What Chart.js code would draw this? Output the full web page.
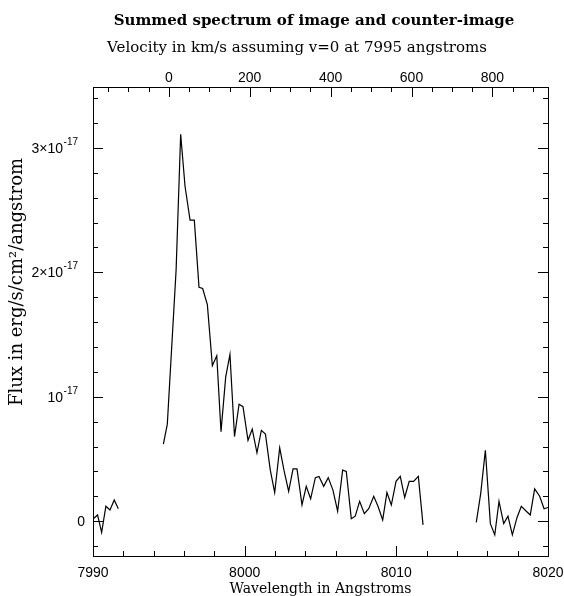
<!DOCTYPE html>
<html>
<head>
<meta charset="utf-8">
<script src="https://cdn.jsdelivr.net/npm/chart.js@4.4.1/dist/chart.umd.min.js"></script>
<style>
  html, body { margin: 0; padding: 0; background: #fff; }
  #wrap { width: 564px; height: 596px; }
</style>
</head>
<body>
<div id="wrap"><canvas id="spec"></canvas></div>
<script>
// flux is in units of 1e-17 erg/s/cm2/angstrom
const wavelengthA = [7990.02, 7990.30, 7990.57, 7990.85, 7991.12, 7991.40, 7991.67];
const fluxA = [0.02, 0.05, -0.09, 0.12, 0.09, 0.17, 0.10];

const wavelengthB = [7994.64, 7994.90, 7995.19, 7995.48, 7995.78, 7996.07, 7996.40, 7996.68, 7996.99, 7997.23,
  7997.54, 7997.87, 7998.16, 7998.44, 7998.75, 7999.03, 7999.33, 7999.63, 7999.89, 8000.22,
  8000.50, 8000.81, 8001.10, 8001.37, 8001.69, 8001.98, 8002.31, 8002.59, 8002.90, 8003.19,
  8003.45, 8003.78, 8004.06, 8004.35, 8004.66, 8004.90, 8005.21, 8005.51, 8005.82, 8006.13,
  8006.46, 8006.70, 8007.03, 8007.29, 8007.58, 8007.89, 8008.18, 8008.51, 8008.79, 8009.10,
  8009.38, 8009.67, 8009.98, 8010.26, 8010.55, 8010.85, 8011.14, 8011.45, 8011.76];
const fluxB = [0.62, 0.78, 1.40, 2.02, 3.11, 2.69, 2.42, 2.42, 1.88, 1.87,
  1.74, 1.25, 1.33, 0.72, 1.16, 1.34, 0.68, 0.94, 0.92, 0.65,
  0.74, 0.55, 0.73, 0.70, 0.41, 0.23, 0.59, 0.41, 0.24, 0.42,
  0.42, 0.13, 0.28, 0.18, 0.35, 0.36, 0.28, 0.35, 0.25, 0.08,
  0.41, 0.40, 0.02, 0.04, 0.16, 0.06, 0.10, 0.20, 0.12, 0.01,
  0.23, 0.13, 0.32, 0.36, 0.19, 0.32, 0.32, 0.36, -0.03];

const wavelengthC = [8015.27, 8015.56, 8015.87, 8016.20, 8016.49, 8016.77, 8017.08, 8017.36, 8017.65,
  8017.96, 8018.24, 8018.57, 8018.83, 8019.12, 8019.45, 8019.74, 8020.00];
const fluxC = [-0.01, 0.22, 0.57, -0.02, -0.11, 0.16, -0.02, 0.04, -0.11,
  0.03, 0.12, 0.08, 0.05, 0.26, 0.20, 0.10, 0.11];

const xTickLabels = [7990, 8000, 8010, 8020];
const velTickLabels = [0, 200, 400, 600, 800];
// y tick labels: mantissa part and exponent part
const yTickBase = ['0', '10', '2\u00D710', '3\u00D710'];
const yTickExp = ['', '-17', '-17', '-17'];

const xMin = 7990, xMax = 8020;
const yMin = -0.28, yMax = 3.49;
const restWave = 7995, cLight = 299792.458;
const toVel = w => cLight * (w - restWave) / restWave;

const pts = (xs, ys) => xs.map((x, i) => ({ x: x, y: ys[i] }));
const lineStyle = { borderColor: '#000', borderWidth: 1.2, pointRadius: 0, tension: 0, fill: false, xAxisID: 'x', yAxisID: 'y' };
const noEdgePad = s => { s.paddingLeft = 0; s.paddingRight = 0; };

// box frame, inward ticks on all four sides, and the text labels
const idlFrame = {
  id: 'idlFrame',
  afterDraw(chart) {
    const { ctx, chartArea: a, scales } = chart;
    ctx.save();
    ctx.strokeStyle = '#000';
    ctx.lineWidth = 1;
    ctx.strokeRect(Math.round(a.left) + 0.5, Math.round(a.top) + 0.5,
      Math.round(a.right - a.left), Math.round(a.bottom - a.top));

    const seg = (x1, y1, x2, y2) => { ctx.beginPath(); ctx.moveTo(x1, y1); ctx.lineTo(x2, y2); ctx.stroke(); };

    // wavelength: major 10, minor 2
    for (let k = 0; k <= 15; k++) {
      const px = Math.round(scales.x.getPixelForValue(xMin + 2 * k)) + 0.5;
      const len = k % 5 === 0 ? 10 : 5;
      seg(px, a.bottom, px, a.bottom - len);
    }
    // velocity: major 200, minor 50
    for (let k = -3; k <= 18; k++) {
      const v = 50 * k;
      if (v < scales.x2.min || v > scales.x2.max) continue;
      const px = Math.round(scales.x2.getPixelForValue(v)) + 0.5;
      const len = k % 4 === 0 ? 10 : 5;
      seg(px, a.top, px, a.top + len);
    }
    // flux: major 1e-17, minor 0.2e-17, left and right
    for (let k = -1; k <= 17; k++) {
      const v = 0.2 * k;
      if (v < yMin || v > yMax) continue;
      const py = Math.round(scales.y.getPixelForValue(v)) + 0.5;
      const len = k % 5 === 0 ? 10 : 5;
      seg(a.left, py, a.left + len, py);
      seg(a.right, py, a.right - len, py);
    }

    ctx.fillStyle = '#000';
    ctx.textBaseline = 'middle';

    // y tick labels with raised exponent
    ctx.textAlign = 'right';
    yTickBase.forEach((base, i) => {
      const py = scales.y.getPixelForValue(i);
      let xr = a.left - 8;
      if (yTickExp[i]) {
        xr = a.left - 15;
        ctx.font = '10px "Liberation Sans"';
        ctx.fillText(yTickExp[i], xr, py - 6);
        xr -= ctx.measureText(yTickExp[i]).width + 0.5;
      }
      ctx.font = '14px "Liberation Sans"';
      ctx.fillText(base, xr, py + 1);
    });

    ctx.textAlign = 'center';
    ctx.font = 'bold 15px "DejaVu Serif"';
    ctx.fillText('Summed spectrum of image and counter-image', 314, 21);
    ctx.font = '15px "DejaVu Serif"';
    ctx.fillText('Velocity in km/s assuming v=0 at 7995 angstroms', 297, 48);
    ctx.font = '14px "DejaVu Serif"';
    ctx.fillText('Wavelength in Angstroms', (a.left + a.right) / 2, 589);
    ctx.font = '18px "DejaVu Serif"';
    ctx.translate(17, 282);
    ctx.rotate(-Math.PI / 2);
    ctx.fillText('Flux in erg/s/cm\u00B2/angstrom', 0, 0);
    ctx.restore();
  }
};

new Chart(document.getElementById('spec'), {
  type: 'line',
  data: {
    datasets: [
      { ...lineStyle, data: pts(wavelengthA, fluxA) },
      { ...lineStyle, data: pts(wavelengthB, fluxB) },
      { ...lineStyle, data: pts(wavelengthC, fluxC) }
    ]
  },
  options: {
    responsive: true,
    maintainAspectRatio: false,
    animation: false,
    layout: { padding: { left: 0, right: 16, top: 0, bottom: 0 } },
    plugins: { legend: { display: false }, tooltip: { enabled: false } },
    scales: {
      x: {
        type: 'linear', position: 'bottom', min: xMin, max: xMax,
        grid: { display: false, drawTicks: false }, border: { display: false },
        afterBuildTicks: s => { s.ticks = xTickLabels.map(v => ({ value: v })); },
        ticks: { color: '#000', padding: 9, maxRotation: 0, font: { family: '"Liberation Sans"', size: 14 },
          callback: v => String(v) },
        afterFit: s => { s.height = 40; noEdgePad(s); }
      },
      x2: {
        type: 'linear', position: 'top', min: toVel(xMin), max: toVel(xMax),
        grid: { display: false, drawTicks: false }, border: { display: false },
        afterBuildTicks: s => { s.ticks = velTickLabels.map(v => ({ value: v })); },
        ticks: { color: '#000', padding: 0, maxRotation: 0, font: { family: '"Liberation Sans"', size: 14 },
          callback: v => String(v) },
        afterFit: s => { s.height = 87; noEdgePad(s); }
      },
      y: {
        type: 'linear', position: 'left', min: yMin, max: yMax,
        grid: { display: false, drawTicks: false }, border: { display: false },
        ticks: { display: false },
        afterFit: s => { s.width = 93; }
      }
    }
  },
  plugins: [idlFrame]
});
</script>
</body>
</html>
